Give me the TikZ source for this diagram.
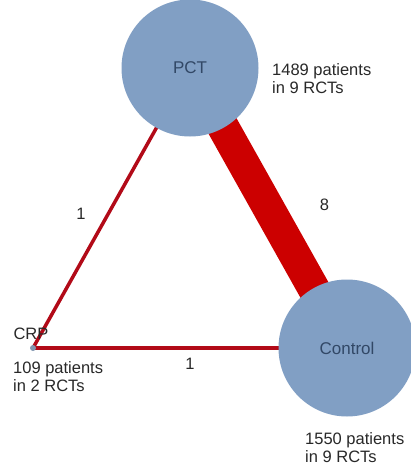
\documentclass[tikz,border=0pt]{standalone}
\usepackage{fontspec}
\setmainfont{Liberation Sans}
\usetikzlibrary{backgrounds}
\definecolor{armblue}{RGB}{129,159,196}
\definecolor{armtext}{RGB}{50,72,102}
\definecolor{linkred}{RGB}{204,0,0}
\definecolor{thinred}{RGB}{178,10,24}
\definecolor{notegrey}{RGB}{40,40,40}

\begin{document}
\begin{tikzpicture}[x=1pt, y=-1pt,
  arm/.style={circle, fill=armblue, minimum size=137pt, inner sep=0pt,
    text=armtext, font=\fontsize{17}{20}\selectfont},
  armdot/.style={circle, fill=armblue!70!gray, minimum size=6pt, inner sep=0pt},
  thinlink/.style={draw=thinred, line width=3.5pt},
  thicklink/.style={draw=linkred, line width=32pt},
  note/.style={align=left, inner sep=0pt, text=notegrey,
    font=\fontsize{16.5}{18.5}\selectfont}]
  \useasboundingbox (0,0) rectangle (411,468);

  % the three arms
  \node[arm] (PCT) at (190,68) {PCT};
  \node[arm] (Control) at (347,348) {Control};
  \node[armdot] (CRP) at (33,348) {};

  % comparisons, behind the arms
  \begin{pgfonlayer}{background}
    \draw[thinlink] (CRP.center) -- node[note, pos=0.48, left=21pt] {1} (PCT.center);
    \draw[thicklink] (PCT.center) -- node[note, pos=0.49, right=37pt] {8} (Control.center);
    \draw[thinlink] (CRP.center) -- node[note, midway, below=8pt] {1} (Control.center);
  \end{pgfonlayer}

  % patient counts
  \node[note] (crplabel) at (31,334) {CRP};
  \node[note, anchor=north west] (crpnote) at (13,361) {109 patients\\in 2 RCTs};
  \node[note, anchor=north west] (pctnote) at (272,63) {1489 patients\\in 9 RCTs};
  \node[note, anchor=north west] (controlnote) at (305,432) {1550 patients\\in 9 RCTs};
\end{tikzpicture}
\end{document}
